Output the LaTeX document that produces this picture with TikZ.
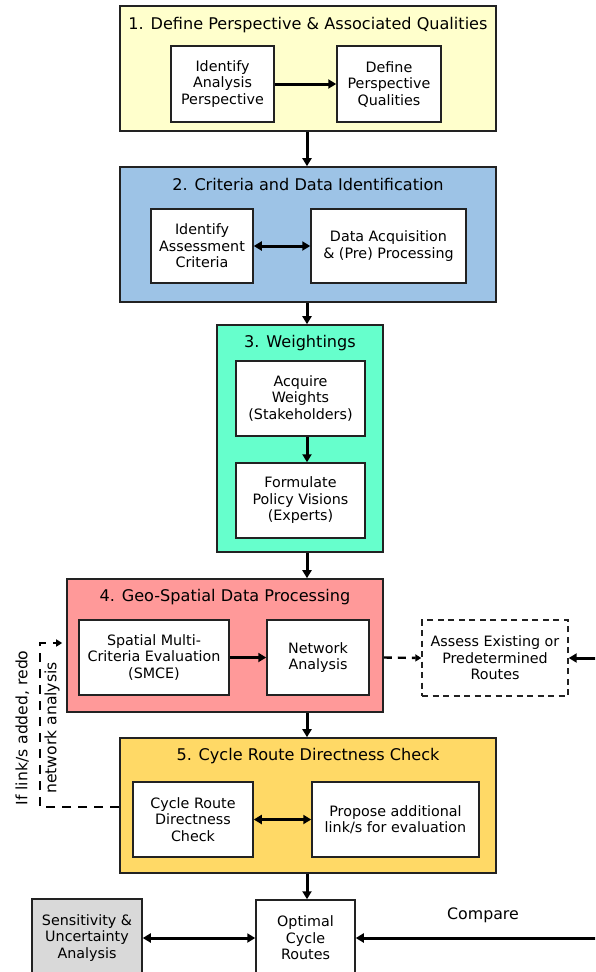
\documentclass[tikz,border=0pt]{standalone}
\usepackage{fontspec}
\setmainfont{DejaVu Sans}
\usetikzlibrary{arrows.meta,calc}

\definecolor{stageone}{HTML}{FFFFCC}
\definecolor{stagetwo}{HTML}{9DC3E6}
\definecolor{stagethree}{HTML}{66FFCC}
\definecolor{stagefour}{HTML}{FF9999}
\definecolor{stagefive}{HTML}{FFD966}
\definecolor{sensgray}{HTML}{D9D9D9}
\definecolor{edge}{HTML}{222222}

\begin{document}
\begin{tikzpicture}[x=1pt,y=-1pt,
  stage/.style={draw=edge, line width=1.6pt, inner sep=0pt},
  task/.style={draw=edge, fill=white, line width=1.5pt, align=center, inner sep=2pt,
    font=\fontsize{14.3}{16.5}\selectfont},
  stagetitle/.style={font=\fontsize{16.1}{18}\selectfont, inner sep=0pt},
  tip/.tip={Triangle[length=8pt,width=9pt]},
  smalltip/.tip={Triangle[length=6pt,width=7pt]},
  flow/.style={line width=3pt, -tip},
  both/.style={line width=3pt, tip-tip},
  feedback/.style={line width=2.6pt, dash pattern=on 9pt off 7pt, -smalltip},
]
\useasboundingbox (0,0) rectangle (595,972);
\clip (0,0) rectangle (595,972);

% main flow spine
\coordinate (spine) at (307,0);

% stage 1
\node[stage, fill=stageone, minimum width=376, minimum height=125] (s1) at (308,68.5) {};
\node[stagetitle] (t1) at (308,25) {1. Define Perspective \& Associated Qualities};
\node[task, minimum width=103, minimum height=76] (s1a) at (222.5,84) {Identify\\Analysis\\Perspective};
\node[task, minimum width=104, minimum height=76] (s1b) at (389,84) {Define\\Perspective\\Qualities};

% stage 2
\node[stage, fill=stagetwo, minimum width=376, minimum height=135] (s2) at (308,234.5) {};
\node[stagetitle] (t2) at (308,184) {2. Criteria and Data Identification};
\node[task, minimum width=102, minimum height=74] (s2a) at (202,246) {Identify\\Assessment\\Criteria};
\node[task, minimum width=155, minimum height=74] (s2b) at (388.5,246) {Data Acquisition\\\& (Pre) Processing};

% stage 3
\node[stage, fill=stagethree, minimum width=166, minimum height=227] (s3) at (300,438.5) {};
\node[stagetitle] (t3) at (300,343) {3. Weightings};
\node[task, minimum width=129, minimum height=75] (s3a) at (300.5,398.5) {Acquire\\Weights\\(Stakeholders)};
\node[task, minimum width=129, minimum height=75] (s3b) at (300.5,500.5) {Formulate\\Policy Visions\\(Experts)};

% stage 4
\node[stage, fill=stagefour, minimum width=316, minimum height=133] (s4) at (225,645.5) {};
\node[stagetitle] (t4) at (225,597) {4. Geo-Spatial Data Processing};
\node[task, minimum width=150, minimum height=75] (s4a) at (154,657.5) {Spatial Multi-\\Criteria Evaluation\\(SMCE)};
\node[task, minimum width=102, minimum height=75] (s4b) at (318,657.5) {Network\\Analysis};
\node[task, line width=1.4pt, dash pattern=on 6pt off 4.5pt, minimum width=146, minimum height=76] (assess) at (495,658) {Assess Existing or\\Predetermined\\Routes};

% stage 5
\node[stage, fill=stagefive, minimum width=376, minimum height=135] (s5) at (308,805.5) {};
\node[stagetitle] (t5) at (308,756) {5. Cycle Route Directness Check};
\node[task, minimum width=120, minimum height=75] (s5a) at (193,819.5) {Cycle Route\\Directness\\Check};
\node[task, minimum width=167, minimum height=75] (s5b) at (395.5,819.5) {Propose additional\\link/s for evaluation};

% outcome
\node[task, fill=sensgray, minimum width=110, minimum height=78] (sens) at (87,938) {Sensitivity \&\\Uncertainty\\Analysis};
\node[task, minimum width=99, minimum height=76] (opt) at (305.5,938) {Optimal\\Cycle\\Routes};
\node[font=\fontsize{15.8}{18}\selectfont, inner sep=0pt] (cmp) at (483,915) {Compare};
\coordinate (cmpin) at (597,938);
\coordinate (existin) at (597,658);

% feedback loop
\coordinate (fblow) at (40,807);
\coordinate (fbhigh) at (40,643);
\node[rotate=90, align=center, inner sep=0pt, font=\fontsize{15.6}{29}\selectfont] (fbnote) at (37.5,728) {If link/s added, redo\\network analysis};

% connectors inside stages
\draw[flow] (s1a.east) -- (s1b.west);
\draw[both] (s2a.east) -- (s2b.west);
\draw[flow] (s3a.south -| spine) -- (s3b.north -| spine);
\draw[flow] (s4a.east) -- (s4b.west);
\draw[both] (s5a.east) -- (s5b.west);

% connectors between stages
\draw[flow] (s1.south -| spine) -- (s2.north -| spine);
\draw[flow] (s2.south -| spine) -- (s3.north -| spine);
\draw[flow] (s3.south -| spine) -- (s4.north -| spine);
\draw[flow] (s4.south -| spine) -- (s5.north -| spine);
\draw[flow] (s5.south -| spine) -- (opt.north -| spine);

% side connectors
\draw[line width=2.4pt, dash pattern=on 8pt off 6pt, -smalltip] (s4.east |- s4b) -- (assess.west);
\draw[flow] (existin) -- (assess.east);
\draw[feedback] (s5.west |- fblow) -- (fblow) -- (fbhigh) -- ([xshift=-4pt]s4.west |- fbhigh);
\draw[both] (sens.east) -- (opt.west);
\draw[flow] (cmpin) -- (opt.east);
\end{tikzpicture}
\end{document}
